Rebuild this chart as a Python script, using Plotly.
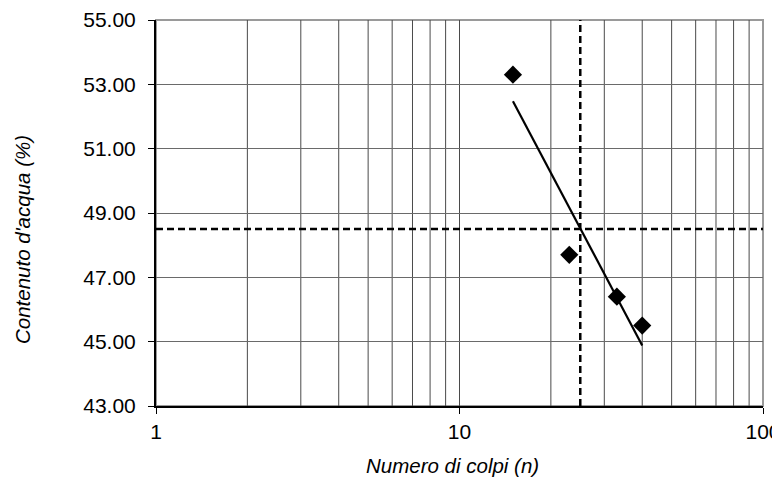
import numpy as np
import plotly.graph_objects as go

# Data
colpi = [15, 23, 33, 40]
contenuto = [53.3, 47.7, 46.4, 45.5]
n_ref = 25
wl = 48.5
x_range = [1, 100]
y_range = [43, 55]
y_ticks = [43, 45, 47, 49, 51, 53, 55]
x_ticks = [1, 10, 100]
x_minor = [2, 3, 4, 5, 6, 7, 8, 9, 20, 30, 40, 50, 60, 70, 80, 90]

# Log trend line (least squares in log10 n)
lx = np.log10(colpi)
slope, intercept = np.polyfit(lx, contenuto, 1)
trend_x = [min(colpi), max(colpi)]
trend_y = [intercept + slope * np.log10(v) for v in trend_x]

font = "Liberation Sans, Arial, sans-serif"
grid_col = "#4a4a4a"

OFF = 8  # default page body margin
W, H = 780 - OFF, 478 - OFF
# plot area in page pixels: x 156..763, y 20..406
L, T = 156 - OFF, 20 - OFF
R, B = 780 - 763, 478 - 406
pw, ph = W - L - R, H - T - B

fig = go.Figure()

for v in x_minor:
    fig.add_shape(type="line", xref="x", yref="y", x0=v, x1=v, y0=y_range[0], y1=y_range[1],
                  line=dict(color=grid_col, width=1), layer="below")

fig.add_trace(go.Scatter(x=trend_x, y=trend_y, mode="lines",
                         line=dict(color="black", width=2.2), showlegend=False, hoverinfo="skip"))
fig.add_trace(go.Scatter(x=colpi, y=contenuto, mode="markers",
                         marker=dict(symbol="diamond", size=14, color="black"), showlegend=False))

fig.add_trace(go.Scatter(x=x_range, y=[wl, wl], mode="lines",
                         line=dict(color="black", width=2.5, dash="7px,4px"), showlegend=False))
fig.add_trace(go.Scatter(x=[n_ref, n_ref], y=y_range, mode="lines",
                         line=dict(color="black", width=2.5, dash="7px,4px"), showlegend=False))

fig.update_layout(
    width=W, height=H,
    margin=dict(l=L, r=R, t=T, b=B, autoexpand=False),
    paper_bgcolor="white", plot_bgcolor="white",
    font=dict(family=font, size=21, color="black"),
    showlegend=False,
)
fig.update_xaxes(
    type="log", range=[np.log10(x_range[0]), np.log10(x_range[1])],
    tickvals=x_ticks, ticktext=[str(v) for v in x_ticks],
    showgrid=True, gridcolor=grid_col, gridwidth=1,
    showline=True, linecolor="black", linewidth=2,
    ticks="outside", ticklen=6, tickcolor="black", tickwidth=1,
    ticklabeloverflow="allow",
    automargin=False, zeroline=False,
)
fig.update_yaxes(
    range=y_range, tickvals=y_ticks, ticktext=[f"{v:.2f}" for v in y_ticks],
    showgrid=True, gridcolor="#6a6a6a", gridwidth=1,
    showline=True, linecolor="black", linewidth=2,
    ticks="outside", ticklen=6, tickcolor="black", tickwidth=1,
    ticklabelstandoff=8, ticklabeloverflow="allow",
    automargin=False, zeroline=False,
)
fig.add_shape(type="rect", xref="paper", yref="paper", x0=0, x1=1, y0=0, y1=1,
              line=dict(color="#9a9a9a", width=2), layer="below")

# axis titles (positions given in page pixels)
def px_x(px):
    return (px - OFF - L) / pw

def px_y(py):
    return 1 - (py - OFF - T) / ph

fig.add_annotation(text="<i>Numero di colpi (n)</i>", xref="paper", yref="paper",
                   x=px_x(452), y=px_y(465), showarrow=False,
                   xanchor="center", yanchor="middle", font=dict(size=20.5))
fig.add_annotation(text="<i>Contenuto d'acqua (%)</i>", xref="paper", yref="paper",
                   x=px_x(22), y=px_y(240), showarrow=False, textangle=-90,
                   xanchor="center", yanchor="middle", font=dict(size=20.5))

fig.write_html("out.html")
